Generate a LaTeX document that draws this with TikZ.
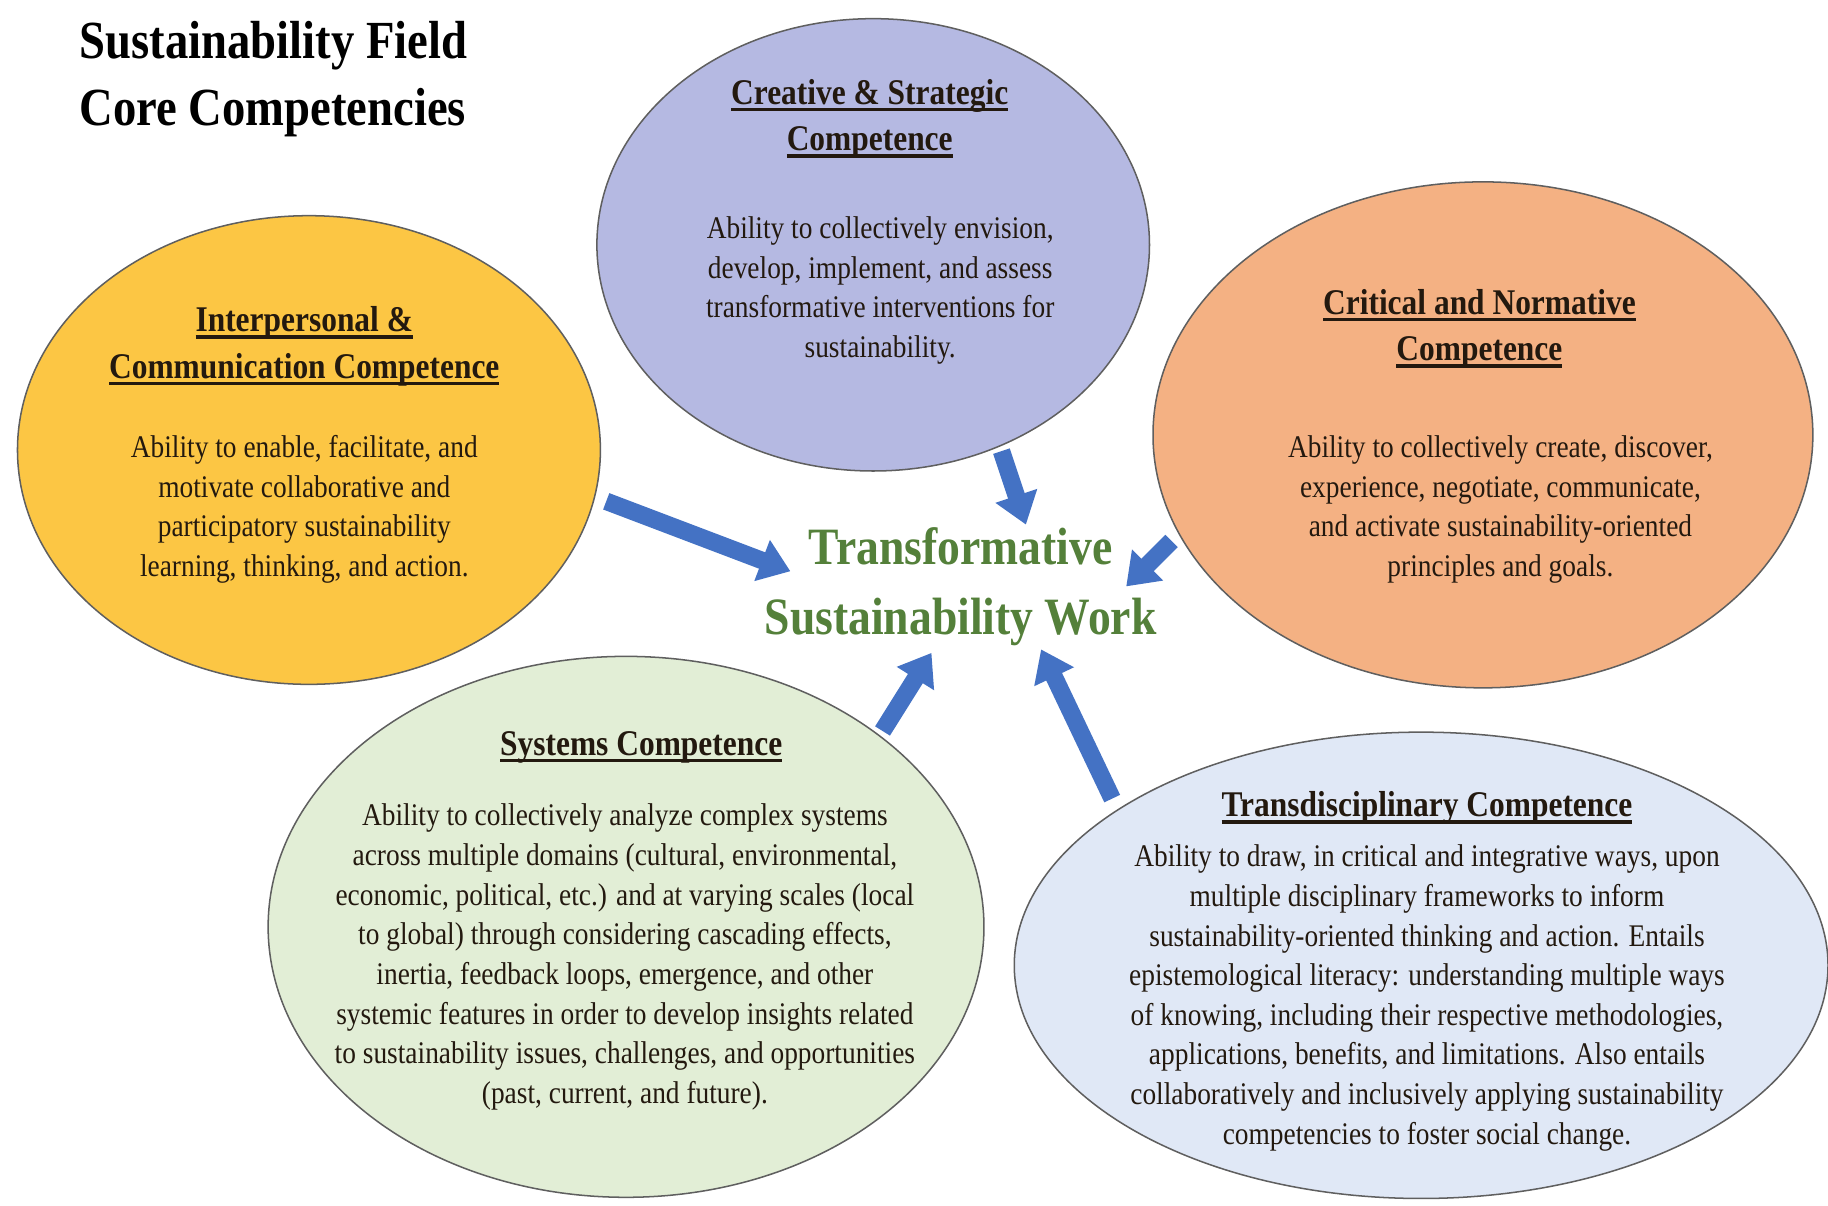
\documentclass[tikz,border=0pt]{standalone}
\usepackage{fontspec}
\setmainfont[FakeStretch=0.87]{Liberation Serif}
\usetikzlibrary{shapes.geometric,arrows.meta}
\definecolor{yelc}{RGB}{252,198,68}
\definecolor{purc}{RGB}{181,185,226}
\definecolor{orac}{RGB}{244,177,131}
\definecolor{grnc}{RGB}{226,238,214}
\definecolor{trac}{RGB}{224,232,246}
\definecolor{bordc}{RGB}{95,95,95}
\definecolor{arrc}{RGB}{68,114,196}
\definecolor{ctrc}{RGB}{84,128,58}
\definecolor{txtc}{RGB}{35,25,15}
\newcommand\hul[1]{\setbox0=\hbox{#1}\rlap{\vrule height -3pt depth 6pt width \wd0}\box0}
\tikzset{
  blob/.style={ellipse, draw=bordc, line width=1.3pt, inner sep=0pt},
  head/.style={text=txtc, align=center, inner sep=0pt, font=\fontsize{31}{40}\selectfont\bfseries},
  body/.style={text=txtc, align=center, inner sep=0pt, font=\fontsize{27}{34}\selectfont},
  bigarrow/.style={draw=arrc, line width=15pt, -{Triangle[length=26pt,width=36pt]}}
}
\begin{document}
\begin{tikzpicture}[x=1pt,y=-1pt]
\fill[white] (0,0) rectangle (1568,1034);
\useasboundingbox (0,0) rectangle (1568,1034);

% title
\node[anchor=west, align=left, inner sep=0pt, text=black,
  font=\fontsize{46}{58}\selectfont\bfseries] (title) at (68,68)
  {Sustainability Field\\Core Competencies};

% ellipses
\node[blob, fill=yelc, minimum width=500pt, minimum height=402pt] (yel) at (265,386) {};
\node[blob, fill=purc, minimum width=474pt, minimum height=388pt] (pur) at (749,210) {};
\node[blob, fill=orac, minimum width=566pt, minimum height=434pt] (ora) at (1272,373) {};
\node[blob, fill=grnc, minimum width=614pt, minimum height=464pt] (grn) at (537,795) {};
\node[blob, fill=trac, minimum width=698pt, minimum height=400pt] (tra) at (1219,828) {};

% interpersonal
\node[head] (yelh) at (261,297) {\hul{Interpersonal \&}\\\hul{Communication Competence}};
\node[body] (yelb) at (261,437) {Ability to enable, facilitate, and\\motivate collaborative and\\participatory sustainability\\learning, thinking, and action.};

% creative
\node[head] (purh) at (746,102) {\hul{Creative \& Strategic}\\\hul{Competence}};
\node[body] (purb) at (755,249) {Ability to collectively envision,\\develop, implement, and assess\\transformative interventions for\\sustainability.};

% critical
\node[head] (orah) at (1269,282) {\hul{Critical and Normative}\\\hul{Competence}};
\node[body] (orab) at (1287,437) {Ability to collectively create, discover,\\experience, negotiate, communicate,\\and activate sustainability-oriented\\principles and goals.};

% systems
\node[head] (grnh) at (550,641) {\hul{Systems Competence}};
\node[body] (grnb) at (536,821) {Ability to collectively analyze complex systems\\across multiple domains (cultural, environmental,\\economic, political, etc.) and at varying scales (local\\to global) through considering cascading effects,\\inertia, feedback loops, emergence, and other\\systemic features in order to develop insights related\\to sustainability issues, challenges, and opportunities\\(past, current, and future).};

% transdisciplinary
\node[head] (trah) at (1224,693) {\hul{Transdisciplinary Competence}};
\node[body] (trab) at (1224,856) {Ability to draw, in critical and integrative ways, upon\\multiple disciplinary frameworks to inform\\sustainability-oriented thinking and action. Entails\\epistemological literacy: understanding multiple ways\\of knowing, including their respective methodologies,\\applications, benefits, and limitations. Also entails\\collaboratively and inclusively applying sustainability\\competencies to foster social change.};

% centre
\node[text=ctrc, align=center, inner sep=0pt, font=\fontsize{45}{60}\selectfont\bfseries] (ctr) at (824,503) {Transformative\\Sustainability Work};

% arrow end points
\coordinate (a1s) at (520,430); \coordinate (a1e) at (678,490);
\coordinate (a2s) at (859,387); \coordinate (a2e) at (880,450);
\coordinate (a3s) at (1005,464); \coordinate (a3e) at (966,503);
\coordinate (a4s) at (757,627); \coordinate (a4e) at (799,560);
\coordinate (a5s) at (954,685); \coordinate (a5e) at (893,557);

\draw[bigarrow] (a1s) -- (a1e);
\draw[bigarrow] (a2s) -- (a2e);
\draw[bigarrow] (a3s) -- (a3e);
\draw[bigarrow] (a4s) -- (a4e);
\draw[bigarrow] (a5s) -- (a5e);
\end{tikzpicture}
\end{document}
